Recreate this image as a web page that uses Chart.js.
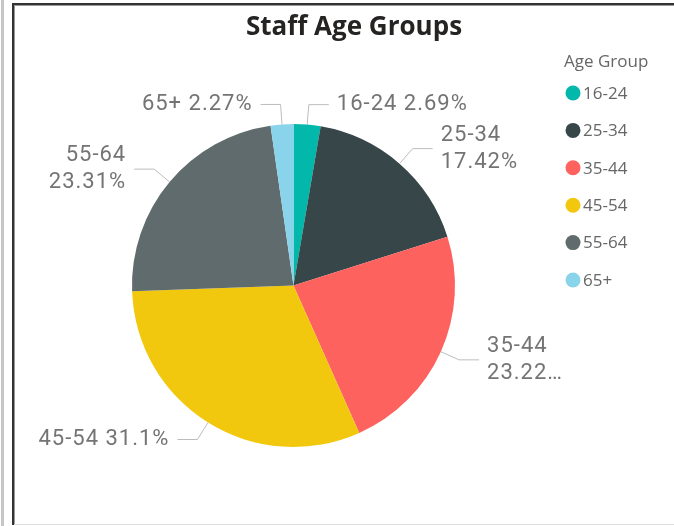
<!DOCTYPE html>
<html>
<head>
<meta charset="utf-8">
<title>Staff Age Groups</title>
<script src="https://cdn.jsdelivr.net/npm/chart.js@4.4.0/dist/chart.umd.min.js"></script>
<style>
    html, body { margin: 0; padding: 0; background: #fff; overflow: hidden; }
    #wrap { position: relative; width: 674px; height: 526px; }
    #edge { position: absolute; left: 1px; top: 0; width: 3px; height: 526px; background: #c6c6c6; }
    #card { position: absolute; left: 12px; top: 3px; width: 680px; height: 520px;
            border-left: 2px solid #333; border-top: 2px solid #333;
            box-shadow: inset 1px 1px 0 #9a9a9a; }
    #foot { position: absolute; left: 14px; top: 524px; width: 660px; height: 1px; background: #dedede; }
    canvas { position: absolute; left: 0; top: 0; }
</style>
</head>
<body>
<div id="wrap">
    <div id="edge"></div>
    <div id="card"></div>
    <div id="foot"></div>
    <canvas id="pie" width="674" height="526"></canvas>
</div>
<script>
(function () {
    // chart data
    var chartTitle = 'Staff Age Groups';
    var legendTitle = 'Age Group';
    var ageGroups = ['16-24', '25-34', '35-44', '45-54', '55-64', '65+'];
    var sharePct = [2.69, 17.42, 23.22, 31.1, 23.31, 2.27];
    var sliceColors = ['#01B8AA', '#374649', '#FD625E', '#F2C80F', '#5F6B6D', '#8AD4EB'];

    var labelFont = '22px Roboto',
        labelColor = '#747474',
        leaderColor = '#bdbdbd',
        lineGap = 27;

    // fit text on one line, else two lines, else cut with an ellipsis
    function fitLines(ctx, name, value, room) {
        var full = name + ' ' + value;
        if (ctx.measureText(full).width <= room) return [full];
        var second = value;
        if (ctx.measureText(second).width > room) {
            var base = value.slice(0, -1);
            while (base.length > 1 && ctx.measureText(base + '\u2026').width > room) {
                base = base.slice(0, -1);
            }
            second = base + '\u2026';
        }
        return [name, second];
    }

    var outsideLabels = {
        id: 'outsideLabels',
        afterDatasetsDraw: function (chart) {
            var ctx = chart.ctx;
            var meta = chart.getDatasetMeta(0);
            var maxRight = 563.5, minLeft = 20;

            ctx.save();
            ctx.font = labelFont;
            ctx.letterSpacing = '1px';
            ctx.textBaseline = 'middle';

            meta.data.forEach(function (arc, i) {
                var p = arc.getProps(['x', 'y', 'startAngle', 'endAngle', 'outerRadius'], true);
                var mid = (p.startAngle + p.endAngle) / 2;
                var cos = Math.cos(mid), sin = Math.sin(mid);
                var r0 = p.outerRadius, r1 = p.outerRadius + 20;
                var onRight = cos >= 0;
                var ex = p.x + cos * r1, ey = p.y + sin * r1;
                var hx = ex + (onRight ? 20 : -20);

                ctx.strokeStyle = leaderColor;
                ctx.lineWidth = 1;
                ctx.beginPath();
                ctx.moveTo(p.x + cos * r0, p.y + sin * r0);
                ctx.lineTo(ex, ey);
                ctx.lineTo(hx, ey);
                ctx.stroke();

                var tx = hx + (onRight ? 8 : -8);
                var room = onRight ? maxRight - tx : tx - minLeft;
                var lines = fitLines(ctx, ageGroups[i], sharePct[i] + '%', room);
                var top = ey - (lines.length - 1) * lineGap / 2;

                ctx.fillStyle = labelColor;
                ctx.textAlign = onRight ? 'left' : 'right';
                lines.forEach(function (line, k) {
                    ctx.fillText(line, tx, top + k * lineGap);
                });
            });
            ctx.restore();
        },
        afterDraw: function (chart) {
            var ctx = chart.ctx;
            ctx.save();

            // title
            ctx.font = 'bold 26px "Open Sans"';
            ctx.fillStyle = '#252423';
            ctx.textAlign = 'center';
            ctx.textBaseline = 'alphabetic';
            ctx.fillText(chartTitle, 354, 35);

            // legend
            ctx.textAlign = 'left';
            ctx.textBaseline = 'middle';
            ctx.fillStyle = '#666666';
            ctx.font = '17px "Open Sans"';
            ctx.fillText(legendTitle, 564, 62);
            ageGroups.forEach(function (name, i) {
                var cy = 93 + i * 37.4;
                ctx.fillStyle = sliceColors[i];
                ctx.beginPath();
                ctx.arc(573, cy, 7.5, 0, Math.PI * 2);
                ctx.fill();
                ctx.fillStyle = '#666666';
                ctx.fillText(name, 583, cy + 1);
            });
            ctx.restore();
        }
    };

    new Chart(document.getElementById('pie').getContext('2d'), {
        type: 'pie',
        data: {
            labels: ageGroups,
            datasets: [{
                data: sharePct,
                backgroundColor: sliceColors,
                borderWidth: 0
            }]
        },
        options: {
            responsive: false,
            animation: false,
            layout: { padding: { top: 124, bottom: 79, left: 14, right: 101 } },
            plugins: {
                legend: { display: false },
                title: { display: false },
                tooltip: { enabled: false }
            }
        },
        plugins: [outsideLabels]
    });
})();
</script>
</body>
</html>
